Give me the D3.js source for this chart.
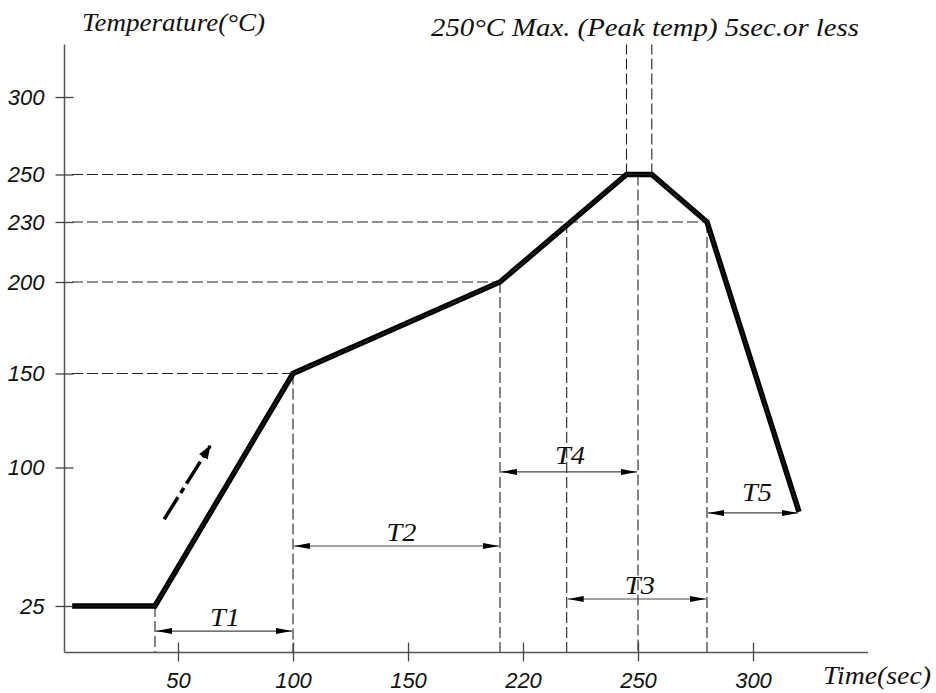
<!DOCTYPE html>
<html>
<head>
<meta charset="utf-8">
<script src="https://cdn.jsdelivr.net/npm/d3@7"></script>
<style>
  html, body { margin: 0; padding: 0; background: #fff; }
  svg { display: block; }
  .tick text { font-family: "Liberation Sans", Arial, sans-serif; font-style: italic; font-size: 22px; fill: #111; }
  .lbl { font-family: "Liberation Serif", "DejaVu Serif", serif; font-style: italic; fill: #111; }
</style>
</head>
<body>
<svg id="chart" width="936" height="693"></svg>
<script>
// ---- data ----
const profileTime = [4, 40, 100, 190, 245, 256, 280, 320];      // sec
const profileTemp = [25, 25, 150, 200, 250, 250, 230, 76];       // °C
const xTickValues = [50, 100, 150, 200, 250, 300];
const xTickLabels = ["50", "100", "150", "220", "250", "300"];
const yTickValues = [25, 100, 150, 200, 230, 250, 300];
const yTickLabels = ["25", "100", "150", "200", "230", "250", "300"];
// horizontal guide lines: temperature -> time where it meets the curve
const hGuideTemp = [150, 200, 230, 250];
const hGuideTime = [100, 190, 280, 245];
// vertical guide lines: time, from temp, to temp
const vGuideTime = [40, 100, 190, 219, 250, 280, 245, 256];
const vGuideFrom = [25, 150, 200, 230, 250, 230, 250, 250];
const vGuideTo   = [0, 0, 0, 0, 0, 0, 334, 334];
// interval arrows
const spanNames = ["T1", "T2", "T4", "T3", "T5"];
const spanStart = [40, 100, 190, 219, 280];
const spanEnd   = [100, 190, 250, 280, 320];
const spanLevel = [11.5, 57.5, 97.6, 28.8, 75.4];
// heating direction arrow (time, temp)
const dirFrom = [44, 72];
const dirTo   = [64, 111.5];

// ---- scales ----
const x = d3.scaleLinear().domain([0, 350]).range([63, 868]);
const y = d3.scaleLinear()
  .domain([0, 25, 100, 150, 200, 230, 250, 300, 334])
  .range([652.5, 606, 467.5, 373.5, 282, 222, 174.5, 97, 44.5]);

const svg = d3.select("#chart");
const defs = svg.append("defs");
["start", "end"].forEach(k => {
  defs.append("marker")
    .attr("id", "ah-" + k)
    .attr("viewBox", "0 -4 16 8")
    .attr("refX", 16).attr("refY", 0)
    .attr("markerUnits", "userSpaceOnUse")
    .attr("markerWidth", 16).attr("markerHeight", 8)
    .attr("orient", k === "end" ? "auto" : "auto-start-reverse")
    .append("path").attr("d", "M0,-3L16,0L0,3Z").attr("fill", "#000");
});
defs.append("marker")
  .attr("id", "ah-big")
  .attr("viewBox", "0 -6 14 12")
  .attr("refX", 13).attr("refY", 0)
  .attr("markerUnits", "userSpaceOnUse")
  .attr("markerWidth", 14).attr("markerHeight", 12)
  .attr("orient", "auto")
  .append("path").attr("d", "M0,-5L14,0L0,5Z").attr("fill", "#000");

// ---- guide lines ----
const guides = svg.append("g")
  .attr("stroke", "#222").attr("stroke-width", 1.1)
  .attr("stroke-dasharray", "11,4").attr("fill", "none");
hGuideTemp.forEach((t, i) => {
  guides.append("line")
    .attr("x1", x(0) + 9).attr("x2", x(hGuideTime[i]))
    .attr("y1", y(t)).attr("y2", y(t));
});
vGuideTime.forEach((t, i) => {
  guides.append("line")
    .attr("x1", x(t)).attr("x2", x(t))
    .attr("y1", y(vGuideFrom[i])).attr("y2", y(vGuideTo[i]));
});

// ---- axes ----
const xAxis = d3.axisBottom(x).tickValues(xTickValues)
  .tickFormat((d, i) => xTickLabels[i]).tickSize(9).tickPadding(11);
const gx = svg.append("g").attr("transform", `translate(0,${y(0)})`).call(xAxis);
gx.select(".domain").attr("d", `M${x(0) + 1.5},0H868`);
gx.selectAll(".tick line").attr("y1", -10);

const yAxis = d3.axisLeft(y).tickValues(yTickValues)
  .tickFormat((d, i) => yTickLabels[i]).tickSize(9).tickPadding(11);
const gy = svg.append("g").attr("transform", `translate(${x(0) + 1.5},0)`).call(yAxis);
gy.select(".domain").attr("d", `M0,${y(334)}V${y(0)}`);
gy.selectAll(".tick line").attr("x1", 9).attr("x2", -9);

[gx, gy].forEach(g => {
  g.selectAll(".domain").attr("stroke", "#555").attr("stroke-width", 1.5);
  g.selectAll(".tick line").attr("stroke", "#444").attr("stroke-width", 1.3);
  g.selectAll(".tick text").attr("fill", "#111");
});

// ---- profile curve ----
const line = d3.line().x(d => x(d[0])).y(d => y(d[1]));
const pts = profileTime.map((t, i) => [t, profileTemp[i]]);
svg.append("path").datum(pts).attr("d", line)
  .attr("fill", "none").attr("stroke", "#000").attr("stroke-width", 5.5)
  .attr("stroke-linejoin", "miter");
svg.append("path").datum(pts).attr("d", line)
  .attr("fill", "none").attr("stroke", "#333").attr("stroke-width", 0.7);

// ---- interval arrows ----
const labelOffset = [-5, -5, -8, -5, -12];
const labelShift = [1, 5, 1, 3, 4];
spanNames.forEach((n, i) => {
  const yy = y(spanLevel[i]);
  svg.append("line")
    .attr("x1", x(spanStart[i]) + 1).attr("x2", x(spanEnd[i]) - 1)
    .attr("y1", yy).attr("y2", yy)
    .attr("stroke", "#444").attr("stroke-width", 1.2)
    .attr("marker-start", "url(#ah-start)").attr("marker-end", "url(#ah-end)");
  svg.append("text").attr("class", "lbl")
    .attr("x", (x(spanStart[i]) + x(spanEnd[i])) / 2 + labelShift[i])
    .attr("y", yy + labelOffset[i])
    .attr("text-anchor", "middle").attr("font-size", 25)
    .attr("textLength", 30).attr("lengthAdjust", "spacingAndGlyphs")
    .text(n);
});

// ---- heating direction arrow ----
svg.append("line")
  .attr("x1", x(dirFrom[0])).attr("y1", y(dirFrom[1]))
  .attr("x2", x(dirTo[0])).attr("y2", y(dirTo[1]))
  .attr("stroke", "#000").attr("stroke-width", 3.5)
  .attr("stroke-dasharray", "26,5,6,5")
  .attr("marker-end", "url(#ah-big)");

// ---- texts ----
function label(txt, xx, yy, w) {
  svg.append("text").attr("class", "lbl")
    .attr("x", xx).attr("y", yy).attr("font-size", 25)
    .attr("textLength", w).attr("lengthAdjust", "spacingAndGlyphs")
    .text(txt);
}
label("Temperature(°C)", 82, 31, 183);
label("250°C Max. (Peak temp) 5sec.or less", 431, 36, 428);
label("Time(sec)", 823, 684, 108);
</script>
</body>
</html>
